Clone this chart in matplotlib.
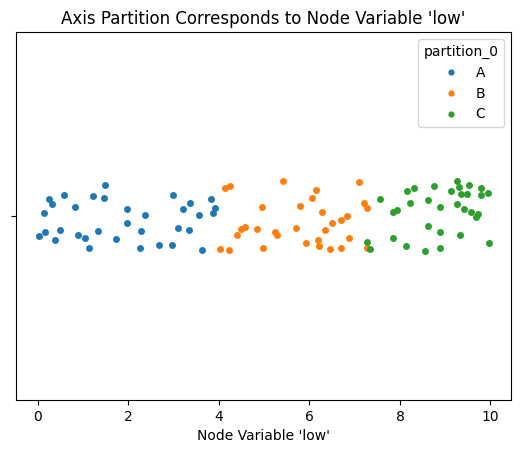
import matplotlib
matplotlib.use("Agg")
import matplotlib.pyplot as plt
from matplotlib.lines import Line2D

title = "Axis Partition Corresponds to Node Variable 'low'"
xlabel = "Node Variable 'low'"
legend_title = "partition_0"
categories = ["A", "B", "C"]
colors = ["#1f77b4", "#ff7f0e", "#2ca02c"]

x_A = [0.013, 0.146, 0.132, 0.256, 0.322, 0.388, 0.499, 0.574, 0.823, 0.889,
       1.037, 1.132, 1.227, 1.330, 1.469, 1.485, 1.734, 1.970, 1.970, 2.257,
       2.285, 2.374, 2.683, 2.969, 2.978, 3.088, 3.199, 3.344, 3.366, 3.565,
       3.631, 3.823, 3.905, 3.874]
j_A = [0.055, 0.044, -0.007, -0.045, -0.033, 0.064, 0.039, -0.057, -0.024, 0.052,
       0.061, 0.087, -0.055, 0.040, -0.049, -0.084, 0.063, -0.020, 0.020, 0.086,
       0.040, -0.003, 0.080, 0.079, -0.057, 0.033, -0.018, 0.037, -0.036, -0.004,
       0.093, -0.046, -0.023, -0.007]

x_B = [4.028, 4.132, 4.236, 4.214, 4.390, 4.485, 4.580, 4.845, 4.955, 4.977,
       5.242, 5.279, 5.411, 5.698, 5.786, 5.925, 6.051, 6.139, 6.183, 6.221,
       6.272, 6.353, 6.455, 6.492, 6.691, 6.706, 6.839, 6.874, 7.095, 7.198,
       7.280, 7.280]
j_B = [0.090, -0.075, -0.081, 0.093, 0.052, 0.036, 0.029, 0.035, -0.025, 0.088,
       0.043, 0.052, -0.095, 0.032, -0.027, 0.074, -0.050, -0.071, 0.065, 0.081,
       -0.011, 0.038, 0.090, 0.018, 0.088, 0.010, 0.000, 0.059, -0.092, -0.035,
       -0.021, 0.088]

x_C = [7.280, 7.331, 7.558, 7.854, 7.942, 7.845, 8.125, 8.147, 8.213, 8.308,
       8.560, 8.617, 8.617, 8.749, 8.882, 8.882, 8.882, 9.118, 9.257, 9.310,
       9.265, 9.323, 9.338, 9.471, 9.530, 9.404, 9.559, 9.669, 9.713, 9.801,
       9.795, 9.940, 9.956]
j_C = [0.071, 0.090, -0.047, -0.012, -0.015, 0.061, 0.082, -0.067, -0.035, -0.075,
       0.095, -0.044, 0.026, -0.082, 0.044, -0.024, 0.086, -0.067, -0.094, -0.080,
       -0.032, 0.052, -0.060, -0.059, -0.084, -0.018, -0.010, 0.003, -0.006, -0.076,
       -0.056, -0.062, 0.073]

xs = [x_A, x_B, x_C]
js = [j_A, j_B, j_C]

fig = plt.figure(figsize=(5.2, 4.55), dpi=100)
ax = fig.add_axes([16/520, 1 - 400/455, 495/520, 368/455])

for cat, col, xv, jv in zip(categories, colors, xs, js):
    ax.scatter(xv, jv, s=25, color=col, linewidths=0, label=cat)

ax.set_ylim(0.5, -0.5)
ax.set_yticks([0])
ax.set_yticklabels([""])
ax.set_xticks([0, 2, 4, 6, 8, 10])
ax.set_xlabel(xlabel)
ax.set_title(title)

handles = [Line2D([], [], marker="o", linestyle="", color=c, markersize=4.5, markeredgewidth=0)
           for c in colors]
ax.legend(handles, categories, title=legend_title, loc="upper right")

fig.savefig("out.png", dpi=100)
